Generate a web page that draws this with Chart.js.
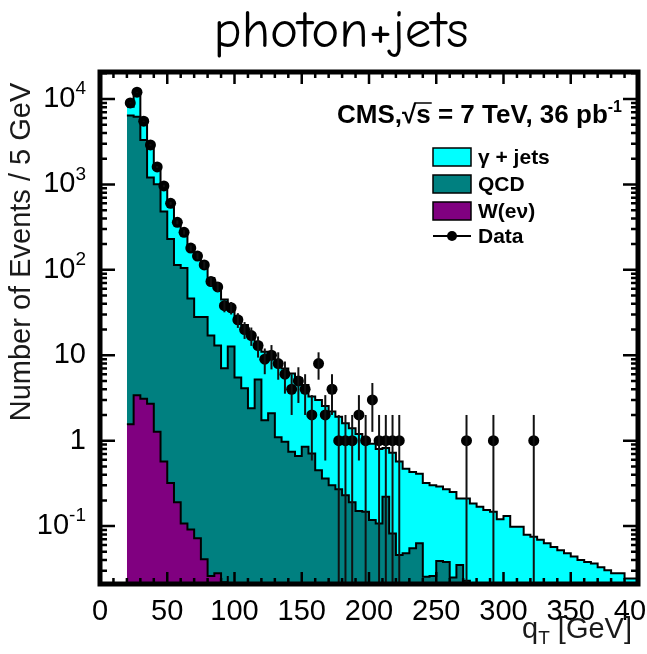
<!DOCTYPE html>
<html>
<head>
<meta charset="utf-8">
<title>photon+jets</title>
<script src="https://cdn.jsdelivr.net/npm/chart.js@4.4.1/dist/chart.umd.min.js"></script>
<style>
  html, body { margin: 0; padding: 0; background: #fff; }
  #plot { display: block; }
</style>
</head>
<body>
<canvas id="plot" width="647" height="654"></canvas>
<script>
// qT histograms: 5 GeV bins from 20 to 400 GeV
const binLow = 20;
const binWidth = 5;

// Events per bin for each MC component (drawn stacked: W, then QCD, then gamma+jets)
const gammaJets = [
  1700, 5300, 2500, 1750, 610, 510, 370, 246, 155, 144,
  122, 82, 63, 49, 38, 24.4, 22.5, 18.5, 15.6, 8.8,
  9.26, 7.5, 7.3, 6.03, 5.36, 4.74, 3.65, 2.59, 2.55, 2.19,
  1.9, 1.63, 1.37, 1.21, 1.05, 0.903, 0.802, 0.693, 0.6, 0.638,
  0.524, 0.422, 0.375, 0.347, 0.295, 0.274, 0.251, 0.232, 0.225, 0.175,
  0.187, 0.162, 0.168, 0.131, 0.147, 0.12, 0.094, 0.098, 0.098, 0.079,
  0.075, 0.069, 0.063, 0.057, 0.052, 0.048, 0.044, 0.04, 0.038, 0.0365,
  0.033, 0.0305, 0.028, 0.028, 0.0244, 0.0244,
];
const qcd = [
  6400, 6200, 3300, 1200, 1000, 480, 230, 114, 105, 46,
  28, 28, 17, 13, 7, 12.6, 5.5, 4.1, 2.4, 5.2,
  1.74, 2.1, 1.1, 0.97, 0.74, 0.66, 0.85, 0.71, 0.45, 0.36,
  0.3, 0.27, 0.23, 0.19, 0.15, 0.147, 0.118, 0.107, 0.22, 0.082,
  0.046, 0.048, 0.055, 0.063, 0.0255, 0.026, 0.039, 0.038, 0.025, 0.035,
  0.023, 0.022, 0, 0.023, 0, 0, 0.037, 0, 0, 0,
  0, 0, 0, 0, 0, 0, 0, 0, 0, 0,
  0, 0, 0, 0, 0, 0,
];
const wenu = [
  1.56, 3.4, 3.1, 2.7, 1.27, 0.57, 0.32, 0.19, 0.107, 0.091,
  0.072, 0.041, 0.026, 0.028, 0.022, 0.026,
];

// Observed events per bin (starting at the 20-25 GeV bin)
const dataCounts = [
  9000, 12000, 5500, 2900, 1600, 960, 600, 360, 275, 180,
  145, 114, 73, 63, 38, 36, 26, 20, 17, 13,
  9, 10, 8, 6, 4, 5, 4, 2, 8, 2,
  4, 1, 1, 1, 2, 1, 3, 1, 1, 1,
  1, 0, 0, 0, 0, 0, 0, 0, 0, 0,
  1, 0, 0, 0, 1, 0, 0, 0, 0, 0,
  1,
];

const xMajorTicks = [0, 50, 100, 150, 200, 250, 300, 350, 400];
const xMinorStep = 10;
const yMajorExponents = [-1, 0, 1, 2, 3, 4];
const yRange = [0.021, 20700];

const sans = '"Liberation Sans", Arial, Helvetica, sans-serif';
const titleFamily = '"Comic Sans MS", "Comic Neue", "DejaVu Sans", sans-serif';

const nBins = gammaJets.length;
const at = (arr, i) => arr[i] || 0;
const wTop = Array.from({ length: nBins }, (_, i) => at(wenu, i));
const qcdTop = wTop.map((v, i) => v + at(qcd, i));
const totalTop = qcdTop.map((v, i) => v + at(gammaJets, i));

// Step outline: rises at the first edge, one point per bin, closes at the last edge.
function stepPoints(vals) {
  const end = binLow + vals.length * binWidth;
  const pts = [{ x: binLow, y: 0 }];
  vals.forEach((v, i) => pts.push({ x: binLow + i * binWidth, y: v }));
  pts.push({ x: end, y: vals[vals.length - 1] });
  pts.push({ x: end, y: 0 });
  return pts;
}

const dataPoints = [];
dataCounts.forEach((n, i) => {
  if (n > 0) dataPoints.push({ x: binLow + (i + 0.5) * binWidth, y: n });
});

function histDataset(label, vals, color, order) {
  return {
    type: 'line',
    label,
    data: stepPoints(vals),
    stepped: true,
    fill: 'start',
    backgroundColor: color,
    borderColor: '#000',
    borderWidth: 2,
    pointRadius: 0,
    tension: 0,
    order,
  };
}

// draws "10" with a raised exponent, right aligned at xr
function drawPower(ctx, exp, xr, ym) {
  const base = exp === 0 ? '1' : '10';
  const sup = (exp === 0 || exp === 1) ? '' : String(exp);
  ctx.font = `29px ${sans}`;
  const wb = ctx.measureText(base).width;
  ctx.font = `19px ${sans}`;
  const ws = sup ? ctx.measureText(sup).width : 0;
  const x0 = xr - wb - ws;
  ctx.textAlign = 'left';
  ctx.textBaseline = 'middle';
  ctx.font = `29px ${sans}`;
  ctx.fillText(base, x0, ym);
  if (sup) {
    ctx.font = `19px ${sans}`;
    ctx.fillText(sup, x0 + wb, ym - 10);
  }
}

const decorPlugin = {
  id: 'histDecor',
  afterDatasetsDraw(chart) {
    const { ctx, chartArea: a, scales: { x, y } } = chart;
    ctx.save();
    ctx.beginPath();
    ctx.rect(a.left, a.top, a.right - a.left, a.bottom - a.top);
    ctx.clip();
    // sqrt(N) error bars on the data
    ctx.strokeStyle = '#111';
    ctx.lineWidth = 2;
    dataPoints.forEach((p) => {
      const err = Math.sqrt(p.y);
      const px = x.getPixelForValue(p.x);
      const lo = p.y - err > 0 ? y.getPixelForValue(p.y - err) : a.bottom;
      ctx.beginPath();
      ctx.moveTo(px, y.getPixelForValue(p.y + err));
      ctx.lineTo(px, lo);
      ctx.stroke();
    });
    ctx.restore();
  },
  afterDraw(chart) {
    const { ctx, chartArea: a, scales: { x, y } } = chart;
    ctx.save();
    ctx.strokeStyle = '#000';
    ctx.fillStyle = '#000';

    // inward ticks on all four sides
    ctx.lineWidth = 2.5;
    ctx.beginPath();
    for (let v = 0; v <= 400; v += xMinorStep) {
      const px = x.getPixelForValue(v);
      const len = xMajorTicks.includes(v) ? 12 : 6;
      ctx.moveTo(px, a.bottom); ctx.lineTo(px, a.bottom - len);
      ctx.moveTo(px, a.top); ctx.lineTo(px, a.top + len);
    }
    for (let e = -2; e <= 4; e++) {
      for (let m = 1; m <= 9; m++) {
        const v = m * Math.pow(10, e);
        if (v < yRange[0] || v > yRange[1]) continue;
        const py = y.getPixelForValue(v);
        const len = m === 1 ? 15 : 7;
        ctx.moveTo(a.left, py); ctx.lineTo(a.left + len, py);
        ctx.moveTo(a.right, py); ctx.lineTo(a.right - len, py);
      }
    }
    ctx.stroke();

    // frame
    ctx.lineWidth = 5;
    ctx.strokeRect(a.left, a.top, a.right - a.left, a.bottom - a.top);

    // tick labels
    ctx.font = `29px ${sans}`;
    ctx.textAlign = 'center';
    ctx.textBaseline = 'alphabetic';
    xMajorTicks.forEach((v) => ctx.fillText(String(v), x.getPixelForValue(v), a.bottom + 36));
    yMajorExponents.forEach((e) => drawPower(ctx, e, a.left - 14, y.getPixelForValue(Math.pow(10, e))));

    // axis titles
    ctx.fillStyle = '#1a1a1a';
    ctx.save();
    ctx.translate(22, (a.top + a.bottom) / 2 - 76);
    ctx.rotate(-Math.PI / 2);
    ctx.font = `29px ${sans}`;
    ctx.textAlign = 'center';
    ctx.textBaseline = 'middle';
    ctx.fillText('Number of Events / 5 GeV', 0, 0);
    ctx.restore();

    ctx.textAlign = 'left';
    ctx.textBaseline = 'alphabetic';
    ctx.font = `29px ${sans}`;
    const wq = ctx.measureText('q').width;
    ctx.font = `19px ${sans}`;
    const wt = ctx.measureText('T').width;
    ctx.font = `29px ${sans}`;
    const rest = ' [GeV]';
    const wr = ctx.measureText(rest).width;
    const qx = a.right - 6 - (wq + wt + wr);
    const qy = a.bottom + 54;
    ctx.fillText('q', qx, qy);
    ctx.fillText(rest, qx + wq + wt, qy);
    ctx.font = `19px ${sans}`;
    ctx.fillText('T', qx + wq, qy + 6);

    // CMS label
    ctx.fillStyle = '#000';
    const cmsBase = a.top + 51;
    const bold = (s) => `bold ${s}px ${sans}`;
    const parts = [
      { t: 'CMS,', f: bold(26), dy: 0 },
      { t: '\u221A', f: bold(26), dy: 0 },
      { t: 's', f: bold(26), dy: 0, bar: true },
      { t: ' = 7 TeV, 36 pb', f: bold(26), dy: 0 },
      { t: '-1', f: bold(16), dy: -11 },
    ];
    let total = 0;
    parts.forEach((p) => { ctx.font = p.f; p.w = ctx.measureText(p.t).width; total += p.w; });
    let cx = a.right - 16 - total;
    ctx.lineWidth = 1.5;
    parts.forEach((p) => {
      ctx.font = p.f;
      ctx.fillText(p.t, cx, cmsBase + p.dy);
      if (p.bar) {
        ctx.beginPath();
        ctx.moveTo(cx - 2, cmsBase - 20);
        ctx.lineTo(cx + p.w + 1, cmsBase - 20);
        ctx.stroke();
      }
      cx += p.w;
    });

    // legend
    const lx = a.right - 205;
    const rows = [
      { ds: chart.data.datasets[3], yc: a.top + 85 },
      { ds: chart.data.datasets[2], yc: a.top + 112 },
      { ds: chart.data.datasets[1], yc: a.top + 139 },
    ];
    ctx.font = bold(21);
    ctx.textBaseline = 'middle';
    rows.forEach((r) => {
      ctx.fillStyle = r.ds.backgroundColor;
      ctx.fillRect(lx, r.yc - 9, 38, 18);
      ctx.lineWidth = 1.5;
      ctx.strokeRect(lx, r.yc - 9, 38, 18);
      ctx.fillStyle = '#000';
      ctx.fillText(r.ds.label, lx + 45, r.yc + 1);
    });
    const dy = a.top + 164;
    ctx.lineWidth = 2;
    ctx.beginPath();
    ctx.moveTo(lx, dy); ctx.lineTo(lx + 38, dy);
    ctx.stroke();
    ctx.beginPath();
    ctx.arc(lx + 19, dy, 5, 0, Math.PI * 2);
    ctx.fill();
    ctx.fillText(chart.data.datasets[0].label, lx + 45, dy + 1);

    // title, sized to span 257 px
    ctx.font = `40px ${titleFamily}`;
    const tw = ctx.measureText('photon+jets').width;
    ctx.font = `${Math.round(40 * 257 / tw)}px ${titleFamily}`;
    ctx.textAlign = 'center';
    ctx.textBaseline = 'alphabetic';
    ctx.fillText('photon+jets', 341, 47);

    ctx.restore();
  },
};

new Chart(document.getElementById('plot'), {
  type: 'line',
  data: {
    datasets: [
      {
        type: 'scatter',
        label: 'Data',
        data: dataPoints,
        showLine: false,
        pointRadius: 5.5,
        pointBackgroundColor: '#000',
        pointBorderWidth: 0,
        order: 0,
      },
      histDataset('W(e\u03BD)', wTop, '#800080', 1),
      histDataset('QCD', qcdTop, '#008080', 2),
      histDataset('\u03B3 + jets', totalTop, '#00ffff', 3),
    ],
  },
  options: {
    responsive: false,
    animation: false,
    events: [],
    layout: { padding: { left: 100, top: 72, right: 9, bottom: 70 } },
    plugins: {
      legend: { display: false },
      title: { display: false },
      tooltip: { enabled: false },
    },
    scales: {
      x: { type: 'linear', min: 0, max: 400, display: false },
      y: { type: 'logarithmic', min: yRange[0], max: yRange[1], bounds: 'data', display: false },
    },
  },
  plugins: [decorPlugin],
});
</script>
</body>
</html>
